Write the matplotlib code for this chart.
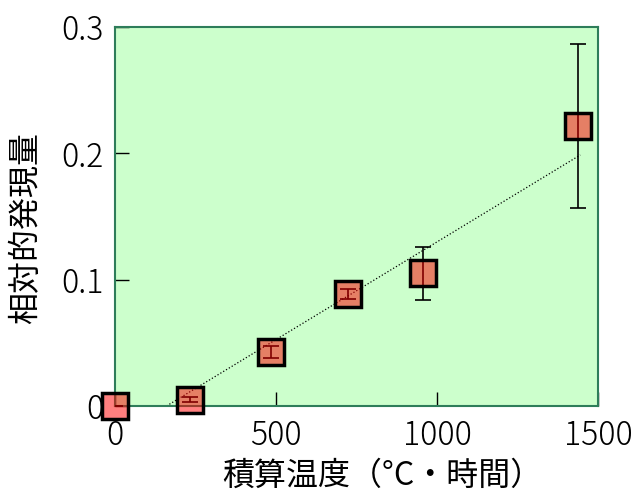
import matplotlib
matplotlib.use("Agg")
import matplotlib.pyplot as plt

plt.rcParams['font.family'] = ['Noto Sans CJK JP', 'DejaVu Sans']
plt.rcParams['font.weight'] = 'light'

# data
temp_sum = [0, 233, 484, 724, 957, 1438]
expression = [0.0, 0.005, 0.0427, 0.0887, 0.105, 0.2216]
expr_err = [0.0, 0.002, 0.005, 0.004, 0.021, 0.065]

trend_x = [160, 1445]
trend_y = [0.0, 0.1987]

x_ticks = [0, 500, 1000, 1500]
y_ticks = [0, 0.1, 0.2, 0.3]
y_tick_labels = ["0", "0.1", "0.2", "0.3"]

fig = plt.figure(figsize=(6.34, 4.98), dpi=100)
ax = fig.add_axes([115 / 634, 92 / 498, 483 / 634, 379 / 498])
ax.set_facecolor("#ccffcc")

ax.plot(trend_x, trend_y, color="black", linestyle=":", linewidth=0.9, zorder=2)
ax.errorbar(temp_sum, expression, yerr=expr_err, fmt="none", ecolor="black",
            elinewidth=1.2, capsize=5.5, capthick=1.2, zorder=3)
ax.plot(temp_sum, expression, linestyle="none", marker="s", markersize=19,
        markerfacecolor=(1, 0, 0, 0.5), markeredgecolor="black",
        markeredgewidth=2.5, clip_on=False, zorder=4)

ax.set_xlim(0, 1500)
ax.set_ylim(0, 0.3)
ax.set_xticks(x_ticks)
ax.set_yticks(y_ticks)
ax.set_yticklabels(y_tick_labels)
ax.tick_params(direction="in", length=10, width=1, labelsize=23)
ax.tick_params(axis="x", pad=9)
ax.tick_params(axis="y", pad=8)

for side in ["left", "right", "top", "bottom"]:
    ax.spines[side].set_color("#2e7d5a")
    ax.spines[side].set_linewidth(1.5)

ax.set_xlabel("積算温度（°C・時間）", fontsize=23)
ax.xaxis.set_label_coords(0.553, -0.143)
ax.set_ylabel("相対的発現量", fontsize=23)
ax.yaxis.set_label_coords(-0.152, 0.47)

fig.savefig("out.png", dpi=100)
